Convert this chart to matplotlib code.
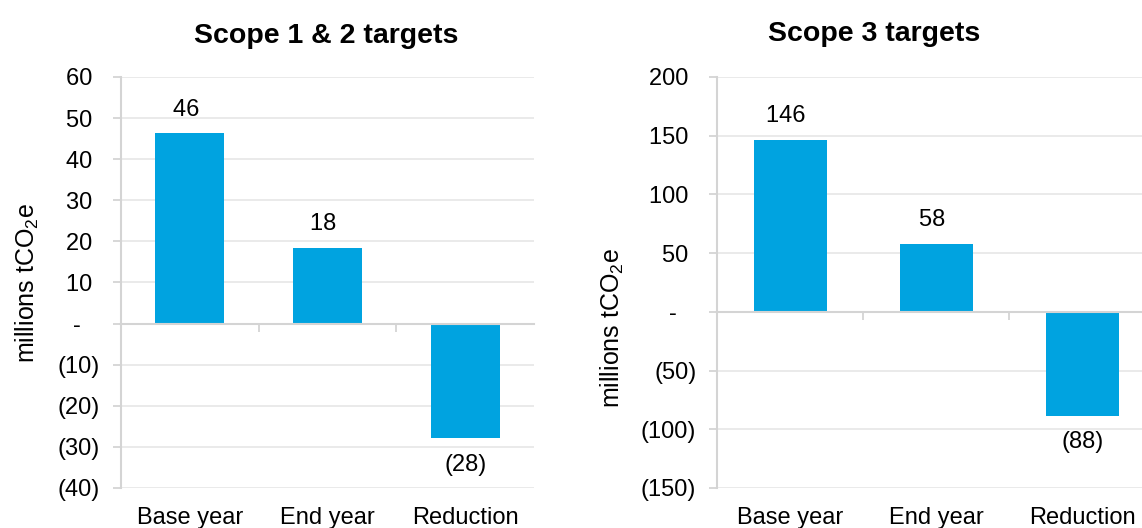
import matplotlib.pyplot as plt
import numpy as np

plt.rcParams['font.family'] = ['Liberation Sans', 'DejaVu Sans']

# data (millions tCO2e)
categories = ['Base year', 'End year', 'Reduction']
scope12_values = [46.3, 18.4, -27.9]
scope3_values = [146.3, 57.9, -88.4]
scope12_ticks = [-40, -30, -20, -10, 0, 10, 20, 30, 40, 50, 60]
scope3_ticks = [-150, -100, -50, 0, 50, 100, 150, 200]

bar_color = '#00A3E0'
grid_color = '#E8E8E8'
axis_color = '#D4D4D4'

PAREN_SP = '\u2004'   # about the width of ')'
EN_SP = '\u2002'


def acct(v):
    # Excel accounting style: zero as dash, negatives in brackets,
    # positives padded so digits line up with the bracketed ones
    if v == 0:
        return '-' + EN_SP + PAREN_SP
    if v < 0:
        return f'({abs(v):.0f})'
    return f'{v:.0f}' + PAREN_SP


def draw_panel(ax, values, yticks, label_x, label_y):
    x = np.arange(len(categories))
    ax.bar(x, values, width=0.5, color=bar_color, zorder=3)
    ax.set_xlim(-0.5, len(categories) - 0.5)
    ax.set_ylim(yticks[0], yticks[-1])
    ax.set_yticks(yticks)
    ax.set_yticklabels([acct(t) for t in yticks], fontsize=17)
    ax.grid(axis='y', color=grid_color, linewidth=1.3, zorder=0)
    ax.tick_params(axis='y', length=6, color=axis_color, width=1.3, pad=9)

    for s in ['top', 'right']:
        ax.spines[s].set_visible(False)
    ax.spines['left'].set_color(axis_color)
    ax.spines['left'].set_linewidth(1.5)
    ax.spines['bottom'].set_position(('data', 0))
    ax.spines['bottom'].set_color(axis_color)
    ax.spines['bottom'].set_linewidth(1.5)
    ax.spines['bottom'].set_zorder(4)

    # boundary ticks on the zero line
    ax.set_xticks(x[:-1] + 0.5)
    ax.set_xticklabels([])
    ax.tick_params(axis='x', length=6, color=axis_color, width=1.3)

    # category labels along the bottom
    sec = ax.secondary_xaxis('bottom')
    sec.set_xticks(x)
    sec.set_xticklabels(categories, fontsize=17)
    sec.tick_params(length=0, pad=14)
    sec.spines['bottom'].set_visible(False)

    for xi, v in zip(x, values):
        off = 17 if v >= 0 else -19
        ax.annotate(acct(round(v)), (xi, v), xytext=(0, off),
                    textcoords='offset points', ha='center', va='center',
                    fontsize=17)

    ax.set_ylabel('millions tCO$\\mathregular{_2}$e', fontsize=18)
    ax.yaxis.label.set_va('center')
    ax.yaxis.set_label_coords(label_x, label_y)


fig = plt.figure(figsize=(11.42, 5.28), dpi=100)
ax1 = fig.add_axes([0.106, 0.0758, 0.3616, 0.7784])
ax2 = fig.add_axes([0.628, 0.0758, 0.3835, 0.7784])

draw_panel(ax1, scope12_values, scope12_ticks, -0.228, 0.5)
draw_panel(ax2, scope3_values, scope3_ticks, -0.24, 0.39)

fig.text(0.2855, 0.9186, 'Scope 1 & 2 targets', ha='center', va='baseline',
         fontsize=20.5, fontweight='bold')
fig.text(0.7653, 0.9224, 'Scope 3 targets', ha='center', va='baseline',
         fontsize=20.5, fontweight='bold')

plt.savefig('out.png', dpi=100)
